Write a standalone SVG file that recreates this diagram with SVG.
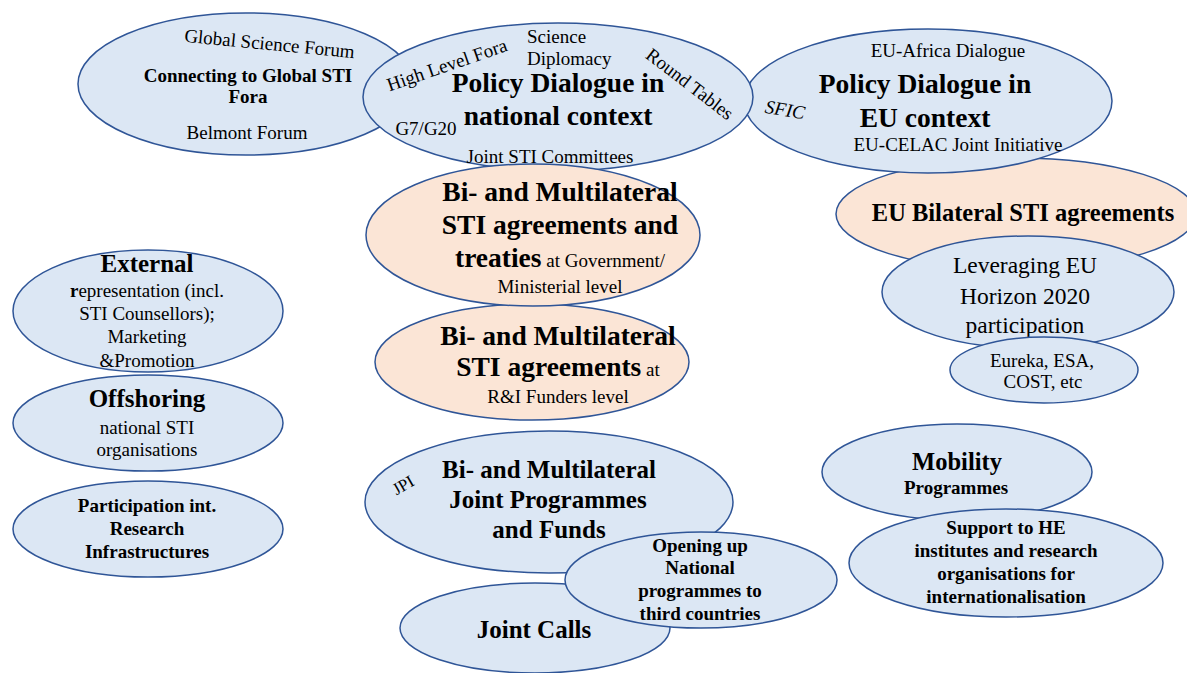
<svg xmlns="http://www.w3.org/2000/svg" width="1187" height="673" viewBox="0 0 1187 673">
  <style>
    .blue { fill: #DCE7F4; stroke: #2F5597; stroke-width: 1.5; }
    .orange { fill: #FBE5D6; stroke: #2F5597; stroke-width: 1.5; }
    text { font-family: "Liberation Serif", "Times New Roman", serif; fill: #000; text-anchor: middle; }
    .t19 { font-size: 19px; }
    .b19 { font-size: 19px; font-weight: bold; }
    .b25 { font-size: 25px; font-weight: bold; }
    .b27 { font-size: 27.5px; font-weight: bold; }
    .n { font-weight: normal; font-size: 19px; }
  </style>
  <rect width="1187" height="673" fill="#fff"/>

  <!-- EU bilateral agreements (sits beneath the EU context bubble) -->
  <g id="eu-bilateral">
    <ellipse class="orange" cx="1016" cy="214" rx="180" ry="56"/>
    <text class="b25" x="1023" y="221" style="font-size:24.5px">EU Bilateral STI agreements</text>
  </g>

  <!-- Policy dialogue, EU context -->
  <g id="policy-eu">
    <ellipse class="blue" cx="928" cy="101" rx="184" ry="72"/>
    <text class="t19" x="948" y="57">EU-Africa Dialogue</text>
    <text class="b27" x="925" y="93">Policy Dialogue in</text>
    <text class="b27" x="925" y="127">EU context</text>
    <text class="t19" x="958" y="151">EU-CELAC Joint Initiative</text>
    <text class="t19" x="784" y="116" font-style="italic" transform="rotate(9 784 116)">SFIC</text>
  </g>

  <!-- Global STI fora -->
  <g id="global-fora">
    <ellipse class="blue" cx="246" cy="84" rx="168" ry="71"/>
    <text class="t19" x="269" y="50" transform="rotate(5.5 269 50)">Global Science Forum</text>
    <text class="b19" x="248" y="82">Connecting to Global STI</text>
    <text class="b19" x="248" y="103">Fora</text>
    <text class="t19" x="247" y="139">Belmont Forum</text>
  </g>

  <!-- Policy dialogue, national context -->
  <g id="policy-national">
    <ellipse class="blue" cx="558" cy="97" rx="195" ry="74"/>
    <text class="t19" x="449" y="71" transform="rotate(-19 449 71)">High Level Fora</text>
    <text class="t19" x="527" y="43" style="text-anchor:start">Science</text>
    <text class="t19" x="527" y="65" style="text-anchor:start">Diplomacy</text>
    <text class="t19" x="686" y="89" transform="rotate(37.5 686 89)">Round Tables</text>
    <text class="b27" x="558" y="92">Policy Dialogue in</text>
    <text class="b27" x="558" y="125">national context</text>
    <text class="t19" x="426" y="135">G7/G20</text>
    <text class="t19" x="550" y="163">Joint STI Committees</text>
  </g>

  <!-- Agreements at funders level -->
  <g id="agreements-funders">
    <ellipse class="orange" cx="532" cy="362" rx="157" ry="58"/>
    <text class="b27" x="558" y="345">Bi- and Multilateral</text>
    <text class="b27" x="558" y="376">STI agreements<tspan class="n"> at</tspan></text>
    <text class="t19" x="558" y="403">R&amp;I Funders level</text>
  </g>

  <!-- Agreements and treaties at government level -->
  <g id="agreements-government">
    <ellipse class="orange" cx="533" cy="235" rx="167" ry="71"/>
    <text class="b27" x="560" y="201">Bi- and Multilateral</text>
    <text class="b27" x="560" y="234">STI agreements and</text>
    <text class="b27" x="560" y="267">treaties<tspan class="n"> at Government/</tspan></text>
    <text class="t19" x="560" y="293">Ministerial level</text>
  </g>

  <!-- Horizon 2020 -->
  <g id="horizon">
    <ellipse class="blue" cx="1028" cy="292" rx="146" ry="56"/>
    <text x="1025" y="273" style="font-size:23.5px">Leveraging EU</text>
    <text x="1025" y="304" style="font-size:23.5px">Horizon 2020</text>
    <text x="1025" y="333" style="font-size:23.5px">participation</text>
  </g>

  <!-- Eureka / ESA / COST -->
  <g id="eureka">
    <ellipse class="blue" cx="1044" cy="370" rx="94" ry="33"/>
    <text class="t19" x="1042" y="367">Eureka, ESA,</text>
    <text class="t19" x="1043" y="388">COST, etc</text>
  </g>

  <!-- External representation -->
  <g id="external">
    <ellipse class="blue" cx="148" cy="311" rx="135" ry="61"/>
    <text class="b25" x="147" y="272">External</text>
    <text class="t19" x="147" y="297"><tspan font-weight="bold">r</tspan>epresentation (incl.</text>
    <text class="t19" x="147" y="320">STI Counsellors);</text>
    <text class="t19" x="147" y="343">Marketing</text>
    <text class="t19" x="147" y="367">&amp;Promotion</text>
  </g>

  <!-- Offshoring -->
  <g id="offshoring">
    <ellipse class="blue" cx="148" cy="423" rx="135" ry="48"/>
    <text class="b25" x="147" y="407">Offshoring</text>
    <text class="t19" x="147" y="434">national STI</text>
    <text class="t19" x="147" y="456">organisations</text>
  </g>

  <!-- Research infrastructures -->
  <g id="infrastructures">
    <ellipse class="blue" cx="148" cy="529" rx="135" ry="48"/>
    <text class="b19" x="147" y="512">Participation int.</text>
    <text class="b19" x="147" y="535">Research</text>
    <text class="b19" x="147" y="558">Infrastructures</text>
  </g>

  <!-- Joint programmes and funds -->
  <g id="joint-programmes">
    <ellipse class="blue" cx="549" cy="502" rx="184" ry="71"/>
    <text x="406" y="490" style="font-size:17px" transform="rotate(-30 406 490)">JPI</text>
    <text class="b25" x="549" y="478">Bi- and Multilateral</text>
    <text class="b25" x="548" y="508">Joint Programmes</text>
    <text class="b25" x="549" y="538">and Funds</text>
  </g>

  <!-- Joint calls -->
  <g id="joint-calls">
    <ellipse class="blue" cx="535" cy="628" rx="135" ry="45"/>
    <text class="b25" x="534" y="638">Joint Calls</text>
  </g>

  <!-- Opening national programmes -->
  <g id="opening-up">
    <ellipse class="blue" cx="701" cy="580" rx="136" ry="48"/>
    <text class="b19" x="700" y="552">Opening up</text>
    <text class="b19" x="700" y="574">National</text>
    <text class="b19" x="700" y="597">programmes to</text>
    <text class="b19" x="700" y="620">third countries</text>
  </g>

  <!-- Mobility -->
  <g id="mobility">
    <ellipse class="blue" cx="957" cy="472" rx="135" ry="48"/>
    <text class="b25" x="957" y="470" style="font-size:24.5px">Mobility</text>
    <text class="b19" x="956" y="494">Programmes</text>
  </g>

  <!-- Support to HE institutes -->
  <g id="he-support">
    <ellipse class="blue" cx="1006" cy="563" rx="157" ry="54"/>
    <text class="b19" x="1006" y="534">Support to HE</text>
    <text class="b19" x="1006" y="557">institutes and research</text>
    <text class="b19" x="1006" y="580">organisations for</text>
    <text class="b19" x="1006" y="603">internationalisation</text>
  </g>
</svg>
